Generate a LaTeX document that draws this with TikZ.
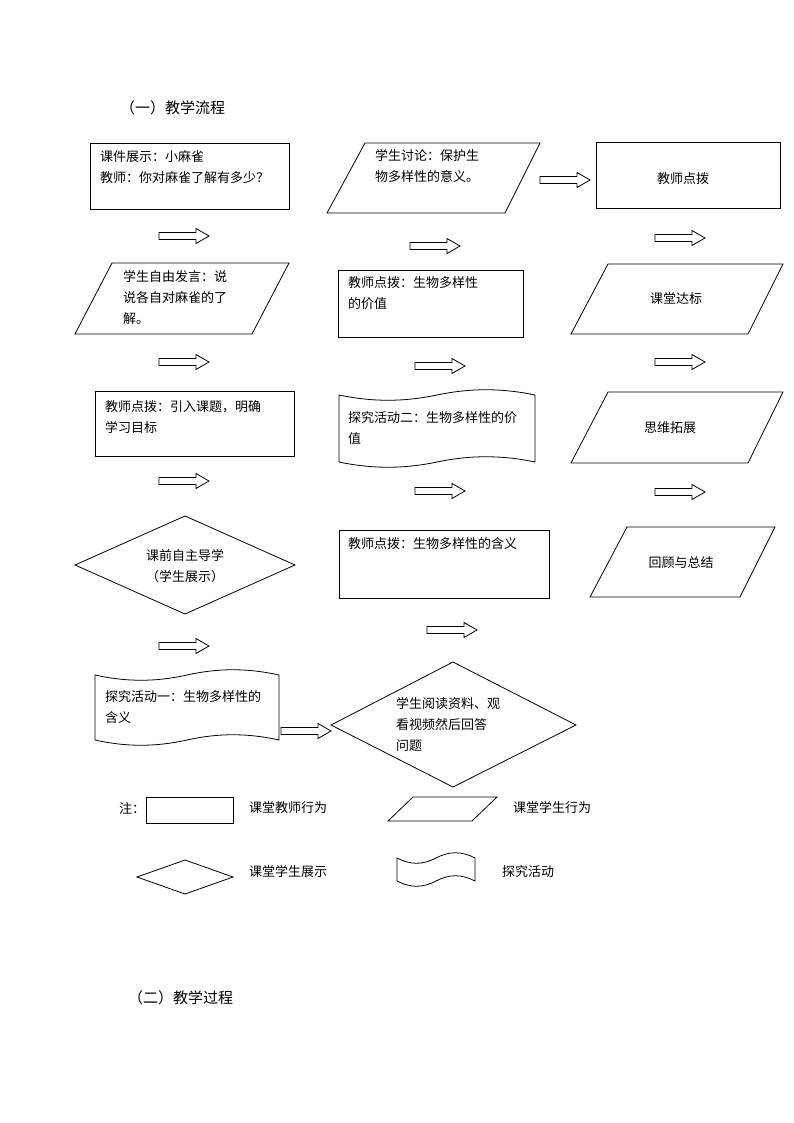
\documentclass[tikz,border=0pt]{standalone}
\usepackage{fontspec}
\newfontfamily\cjk{Noto Sans CJK SC}
\usetikzlibrary{shapes.geometric}
\newcommand{\barrow}[2]{\draw[line width=0.8pt] (#1,#2-3.5) -- ++(37,0) -- ++(0,-4) -- ++(13,7.5) -- ++(-13,7.5) -- ++(0,-4) -- ++(-37,0) -- cycle;}
\newcommand{\tape}[4]{% x0 y0 x1 y1
  \draw[line width=0.8pt] (#1,#2+5) .. controls ({#1+0.17*(#3-#1)},#2+12) and ({#1+0.33*(#3-#1)},#2+12) .. ({#1+0.5*(#3-#1)},#2+5) .. controls ({#1+0.67*(#3-#1)},#2-2) and ({#1+0.83*(#3-#1)},#2-2) .. (#3,#2+5)
  -- (#3,#4-5) .. controls ({#1+0.83*(#3-#1)},#4-12) and ({#1+0.67*(#3-#1)},#4-12) .. ({#1+0.5*(#3-#1)},#4-5) .. controls ({#1+0.33*(#3-#1)},#4+2) and ({#1+0.17*(#3-#1)},#4+2) .. (#1,#4-5) -- cycle;}
\begin{document}
\begin{tikzpicture}[x=1pt,y=-1pt,
  txt/.style={font=\cjk\fontsize{13}{21}\selectfont,anchor=north west,inner sep=0pt,align=left},
  ctxt/.style={font=\cjk\fontsize{13}{21}\selectfont,inner sep=0pt,align=center},
  shp/.style={line width=0.8pt}]
\useasboundingbox[fill=white] (0,0) rectangle (794,1123);
\node[font=\cjk\fontsize{15}{18}\selectfont,anchor=west,inner sep=0pt] (t1) at (120,108) {（一）教学流程};
\node[font=\cjk\fontsize{15}{18}\selectfont,anchor=west,inner sep=0pt] (t2) at (128,998) {（二）教学过程};
% column 1
\draw[shp] (90,143) rectangle (289,209);
\node[txt] (a) at (100,150) {课件展示：小麻雀\\教师：你对麻雀了解有多少？};
\barrow{159}{236}
\draw[shp] (112,263) -- (289,263) -- (252,334) -- (75,334) -- cycle;
\node[txt] (b) at (123,270) {学生自由发言：说\\说各自对麻雀的了\\解。};
\barrow{159}{362}
\draw[shp] (95,391) rectangle (294,456);
\node[txt] (c) at (105,400) {教师点拨：引入课题，明确\\学习目标};
\barrow{159}{481}
\draw[shp] (75,565) -- (185,516) -- (295,565) -- (185,614) -- cycle;
\node[ctxt] (d) at (185,566) {课前自主导学\\（学生展示）};
\barrow{159}{646}
\tape{95}{670}{279}{745}
\node[txt] (e) at (105,690) {探究活动一：生物多样性的\\含义};
\barrow{281}{731}
\draw[shp] (331,725) -- (453,662) -- (576,725) -- (453,787) -- cycle;
\node[txt] (f) at (396,697) {学生阅读资料、观\\看视频然后回答\\问题};
% column 2
\draw[shp] (365,143) -- (540,143) -- (505,213) -- (327,213) -- cycle;
\node[txt] (g) at (375,149) {学生讨论：保护生\\物多样性的意义。};
\barrow{540}{180}
\draw[shp] (596,142) rectangle (780,208);
\node[ctxt] (h) at (683,179) {教师点拨};
\barrow{410}{246}
\draw[shp] (338,270) rectangle (523,337);
\node[txt] (i) at (348,276) {教师点拨：生物多样性\\的价值};
\barrow{415}{366}
\tape{339}{390}{535}{467}
\node[txt] (j) at (348,411) {探究活动二：生物多样性的价\\值};
\barrow{415}{491}
\draw[shp] (339,530) rectangle (549,598);
\node[txt] (k) at (348,537) {教师点拨：生物多样性的含义};
\barrow{427}{630}
% column 3
\barrow{655}{238}
\draw[shp] (608,264) -- (783,264) -- (748,334) -- (571,334) -- cycle;
\node[ctxt] (l) at (676,299) {课堂达标};
\barrow{655}{362}
\draw[shp] (608,392) -- (783,392) -- (748,463) -- (571,463) -- cycle;
\node[ctxt] (m) at (670,428) {思维拓展};
\barrow{655}{492}
\draw[shp] (627,527) -- (775,527) -- (740,597) -- (590,597) -- cycle;
\node[ctxt] (n) at (681,563) {回顾与总结};
% legend
\node[ctxt,anchor=west] (z) at (119,808) {注：};
\draw[shp] (146,797) rectangle (233,823);
\node[ctxt] (l1) at (288,808) {课堂教师行为};
\draw[shp] (413,797) -- (497,797) -- (472,821) -- (388,821) -- cycle;
\node[ctxt] (l2) at (552,808) {课堂学生行为};
\draw[shp] (137,877) -- (185,860) -- (233,877) -- (185,894) -- cycle;
\node[ctxt] (l3) at (288,871) {课堂学生展示};
\tape{397}{853}{475}{886}
\node[ctxt] (l4) at (528,871) {探究活动};
\end{tikzpicture}
\end{document}
